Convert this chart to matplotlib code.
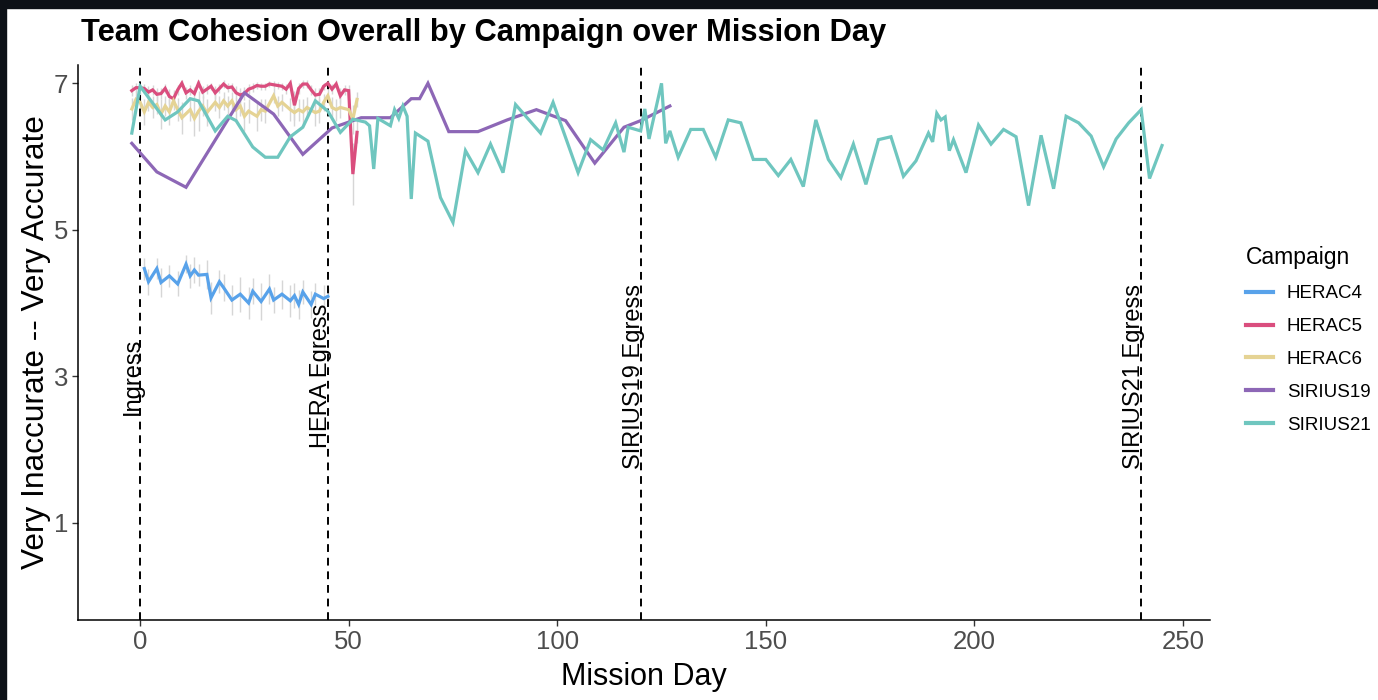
import matplotlib
matplotlib.use("Agg")
import matplotlib.pyplot as plt
import matplotlib.transforms as mtransforms
from matplotlib.patches import Rectangle

plt.rcParams['font.family'] = ['Liberation Sans', 'DejaVu Sans']

# ---------------- data ----------------
campaigns = ["HERAC4", "HERAC5", "HERAC6", "SIRIUS19", "SIRIUS21"]
colors = ["#58A2EA", "#DA4E7E", "#E5D394", "#8D67B6", "#6FC6BF"]

herac4_day = [1, 2, 4, 5, 7, 9, 11, 12, 13, 14, 16, 17, 19, 20, 22, 24, 26, 27, 29, 31,
              32, 34, 36, 37, 38, 39, 41, 42, 44, 45]
herac4_val = [4.47, 4.29, 4.47, 4.28, 4.37, 4.26, 4.53, 4.37, 4.45, 4.38, 4.39, 4.07, 4.29, 4.21,
              4.04, 4.12, 4.00, 4.16, 4.02, 4.19, 4.04, 4.12, 4.03, 4.10, 3.98, 4.15, 3.98, 4.12,
              4.06, 4.09]
herac4_err = [0.15, 0.18, 0.14, 0.20, 0.15, 0.17, 0.12, 0.16, 0.18, 0.15, 0.20, 0.22, 0.16, 0.18,
              0.20, 0.24, 0.22, 0.18, 0.25, 0.20, 0.18, 0.20, 0.22, 0.17, 0.20, 0.16, 0.19, 0.15,
              0.18, 0.12]

herac5_day = [-2, -1, 0, 1, 2, 3, 4, 5, 6, 7, 8, 9, 10, 11, 12, 13, 14, 15, 16, 17, 18, 19, 20,
              21, 22, 23, 24, 25, 26, 27, 28, 29, 30, 31, 32, 33, 34, 35, 36, 37, 38, 39, 40, 41,
              42, 43, 44, 45, 46, 47, 48, 49, 50, 51, 52]
herac5_val = [6.90, 6.94, 6.94, 6.93, 6.88, 6.91, 6.85, 6.86, 6.93, 6.82, 6.79, 6.91, 7.00, 6.87,
              6.91, 6.86, 7.00, 6.88, 6.92, 6.96, 6.87, 6.93, 6.99, 6.94, 6.95, 6.87, 6.84, 6.86,
              6.92, 6.94, 6.97, 6.96, 6.96, 6.99, 6.98, 6.97, 6.96, 6.92, 7.00, 6.70, 6.93, 6.99,
              6.99, 6.91, 6.84, 6.85, 6.96, 7.00, 6.92, 6.99, 6.83, 6.91, 6.90, 5.76, 6.33]
herac5_err = [0.08, 0.06, 0.05, 0.06, 0.08, 0.07, 0.09, 0.08, 0.06, 0.10, 0.12, 0.07, 0.04, 0.08,
              0.07, 0.09, 0.04, 0.08, 0.07, 0.05, 0.09, 0.06, 0.05, 0.06, 0.06, 0.09, 0.10, 0.09,
              0.07, 0.06, 0.05, 0.05, 0.05, 0.04, 0.05, 0.05, 0.05, 0.07, 0.04, 0.20, 0.07, 0.05,
              0.05, 0.07, 0.10, 0.09, 0.05, 0.04, 0.07, 0.05, 0.10, 0.07, 0.08, 0.42, 0.15]

herac6_day = [-2, -1, 0, 1, 2, 3, 4, 5, 6, 7, 8, 9, 10, 12, 13, 14, 15, 16, 18, 19, 20, 21, 22,
              23, 24, 25, 26, 28, 29, 30, 32, 33, 34, 36, 37, 38, 39, 40, 42, 43, 44, 45, 46, 47,
              48, 50, 51, 52]
herac6_val = [6.65, 6.78, 6.74, 6.61, 6.74, 6.67, 6.71, 6.58, 6.69, 6.61, 6.76, 6.64, 6.53, 6.64,
              6.52, 6.62, 6.69, 6.60, 6.74, 6.67, 6.76, 6.69, 6.76, 6.64, 6.69, 6.55, 6.62, 6.55,
              6.64, 6.62, 6.83, 6.69, 6.74, 6.64, 6.60, 6.64, 6.61, 6.67, 6.60, 6.62, 6.74, 6.83,
              6.67, 6.64, 6.67, 6.64, 6.51, 6.78]
herac6_err = [0.15, 0.12, 0.14, 0.18, 0.12, 0.15, 0.13, 0.20, 0.14, 0.18, 0.12, 0.16, 0.22, 0.15,
              0.24, 0.27, 0.14, 0.18, 0.12, 0.15, 0.12, 0.14, 0.12, 0.16, 0.14, 0.20, 0.16, 0.20,
              0.15, 0.16, 0.10, 0.14, 0.12, 0.16, 0.18, 0.15, 0.17, 0.14, 0.18, 0.16, 0.12, 0.10,
              0.14, 0.15, 0.14, 0.15, 0.20, 0.10]

sirius19_day = [-2, 4, 11, 25, 32, 39, 46, 53, 60, 65, 67, 69, 74, 81, 88, 95, 102, 109, 116,
                120, 127]
sirius19_val = [6.18, 5.79, 5.58, 6.87, 6.58, 6.03, 6.39, 6.53, 6.53, 6.79, 6.79, 7.00, 6.34,
                6.34, 6.50, 6.64, 6.49, 5.91, 6.40, 6.49, 6.69]

sirius21_day = [-2, 0, 6, 9, 12, 14, 18, 21, 23, 27, 30, 33, 36, 39, 42, 45, 48, 51, 54, 55, 56,
                57, 60, 61, 62, 63, 64, 65, 66, 69, 72, 75, 78, 81, 84, 87, 90, 96, 99, 105, 108,
                111, 114, 116, 117, 120, 121, 122, 125, 126, 127, 129, 132, 135, 138, 141, 144,
                147, 150, 153, 156, 159, 162, 165, 168, 171, 174, 177, 180, 183, 186, 189, 190,
                191, 192, 193, 194, 195, 198, 201, 204, 207, 210, 213, 216, 219, 222, 225, 228,
                231, 234, 237, 240, 242, 245]
sirius21_val = [6.32, 6.96, 6.50, 6.61, 6.79, 6.76, 6.35, 6.55, 6.49, 6.13, 5.99, 5.99, 6.27,
                6.40, 6.76, 6.62, 6.33, 6.51, 6.47, 6.42, 5.83, 6.52, 6.42, 6.64, 6.52, 6.69,
                6.55, 5.42, 6.32, 6.21, 5.44, 5.10, 6.08, 5.78, 6.17, 5.78, 6.71, 6.32, 6.74,
                5.78, 6.23, 6.09, 6.46, 6.06, 6.40, 6.35, 6.65, 6.24, 7.00, 6.18, 6.35, 5.99,
                6.37, 6.37, 5.99, 6.50, 6.46, 5.96, 5.96, 5.74, 5.96, 5.59, 6.50, 5.96, 5.71,
                6.17, 5.62, 6.23, 6.27, 5.73, 5.94, 6.32, 6.20, 6.59, 6.50, 6.54, 6.08, 6.23,
                5.78, 6.43, 6.17, 6.37, 6.27, 5.33, 6.29, 5.56, 6.55, 6.46, 6.28, 5.86, 6.24,
                6.46, 6.64, 5.70, 6.15]

event_day = [0, 45, 120, 240]
event_label = ["Ingress", "HERA Egress", "SIRIUS19 Egress", "SIRIUS21 Egress"]
event_y = 3

x_ticks = [0, 50, 100, 150, 200, 250]
y_ticks = [1, 3, 5, 7]

title = "Team Cohesion Overall by Campaign over Mission Day"
x_label = "Mission Day"
y_label = "Very Inaccurate -- Very Accurate"
legend_title = "Campaign"

# ---------------- figure ----------------
W, H = 1378, 700
fig = plt.figure(figsize=(W / 100, H / 100), dpi=100, facecolor="white")
ax = fig.add_axes([78 / W, 1 - 620 / H, (1210 - 78) / W, (620 - 65) / H])

err_color = "#D6D6D6"
for d, v, e in [(herac4_day, herac4_val, herac4_err),
                (herac5_day, herac5_val, herac5_err),
                (herac6_day, herac6_val, herac6_err)]:
    ax.vlines(d, [a - b for a, b in zip(v, e)], [a + b for a, b in zip(v, e)],
              color=err_color, lw=1.0, zorder=1)

series = [(herac4_day, herac4_val), (herac5_day, herac5_val), (herac6_day, herac6_val),
          (sirius19_day, sirius19_val), (sirius21_day, sirius21_val)]
for (d, v), name, c in zip(series, campaigns, colors):
    ax.plot(d, v, color=c, lw=2.3, label=name, zorder=3, solid_joinstyle="miter")

for xd, lab in zip(event_day, event_label):
    ax.axvline(xd, color="black", lw=1.4, ls=(0, (4, 3)), zorder=2)
    tr = mtransforms.offset_copy(ax.transData, fig=fig, x=4, y=0, units="dots")
    ax.text(xd, event_y, lab, rotation=90, ha="right", va="center", fontsize=17,
            color="black", transform=tr, zorder=4)

ax.set_xlim(-14.9, 256.5)
ax.set_ylim(-0.33, 7.25)
ax.set_xticks(x_ticks)
ax.set_yticks(y_ticks)
ax.tick_params(axis="both", labelsize=18.5, labelcolor="#4D4D4D", color="#333333",
               length=4, width=1.0, pad=3)
for s in ["top", "right"]:
    ax.spines[s].set_visible(False)
for s in ["left", "bottom"]:
    ax.spines[s].set_linewidth(1.1)
    ax.spines[s].set_color("black")

ax.set_xlabel(x_label, fontsize=22, labelpad=6)
ax.set_ylabel(y_label, fontsize=22.8, labelpad=2)

fig.text(81 / W, 1 - 33 / H, title, fontsize=22.2, fontweight="bold", ha="left", va="center")

leg = ax.legend(loc="center left", bbox_to_anchor=(1246 / W, 1 - 340 / H),
                bbox_transform=fig.transFigure, frameon=False, fontsize=13.5,
                title=legend_title, title_fontsize=16.5, handlelength=1.45,
                handletextpad=0.72, labelspacing=0.84, borderpad=0, borderaxespad=0)
leg._legend_box.align = "left"
for lh in leg.get_lines():
    lh.set_linewidth(3)

# dark frame edges as in the screenshot
fig.patches.append(Rectangle((0, 1 - 8 / H), 1, 8 / H, transform=fig.transFigure,
                             color="#0d1117", zorder=10))
fig.patches.append(Rectangle((0, 0), 6 / W, 1, transform=fig.transFigure,
                             color="#0d1117", zorder=10))

fig.savefig("out.png", dpi=100, facecolor="white")
